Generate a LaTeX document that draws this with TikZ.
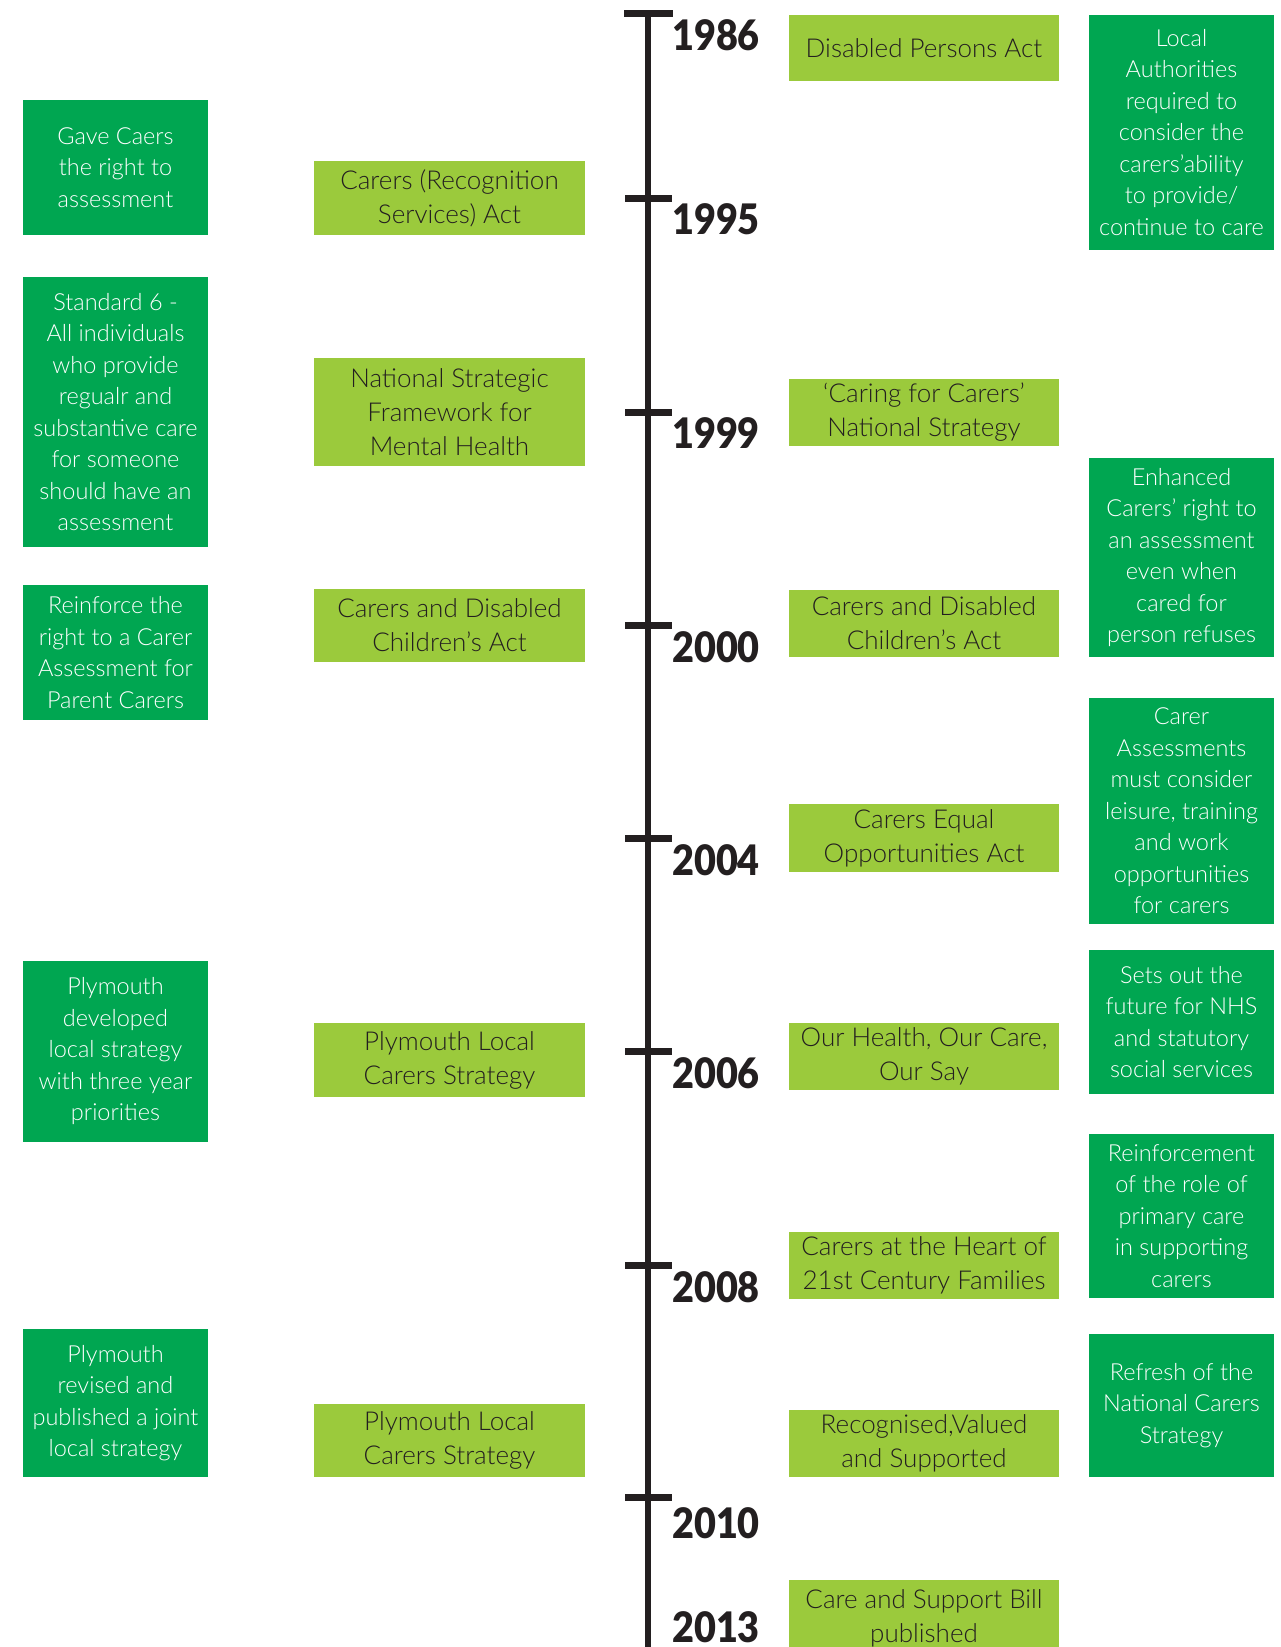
\documentclass[tikz,border=0pt]{standalone}
\usepackage{fontspec}
\usepackage{graphicx}
\setmainfont{Lato}[UprightFont=* Light, BoldFont=* Black]
\definecolor{notegreen}{HTML}{00A651}
\definecolor{actgreen}{HTML}{9BCA3C}
\definecolor{inkblack}{HTML}{231F20}

\tikzset{
    actbox/.style={fill=actgreen, text=inkblack, minimum width=271pt, inner sep=0pt,
        align=center, font=\fontsize{26}{34}\selectfont},
    notebox/.style={fill=notegreen, text=white, minimum width=185pt, inner sep=0pt,
        align=center, font=\fontsize{23.5}{31.5}\selectfont},
    yearlabel/.style={anchor=base west, inner sep=0pt, text=inkblack,
        font=\fontsize{42}{42}\selectfont\bfseries},
    tick/.style={line width=7pt, inkblack}
}

\begin{document}
\begin{tikzpicture}[x=1pt, y=-1pt]
    \useasboundingbox (0,0) rectangle (1281,1647);

    % timeline
    \coordinate (lineTop) at (648,10);
    \coordinate (lineEnd) at (648,1660);
    \draw[line width=6pt, inkblack] (lineTop) -- (lineEnd);

    \draw[tick] (624,13) -- (673,13);
    \draw[tick] (625,198) -- (672,198);
    \draw[tick] (625,412) -- (672,412);
    \draw[tick] (625,625) -- (672,625);
    \draw[tick] (625,838) -- (672,838);
    \draw[tick] (625,1051) -- (672,1051);
    \draw[tick] (625,1265) -- (672,1265);
    \draw[tick] (625,1497) -- (672,1497);

    \node[yearlabel] (y1986) at (672,50) {\scalebox{0.9}[1]{1986}};
    \node[yearlabel] (y1995) at (672,234) {\scalebox{0.9}[1]{1995}};
    \node[yearlabel] (y1999) at (672,448) {\scalebox{0.9}[1]{1999}};
    \node[yearlabel] (y2000) at (672,662) {\scalebox{0.9}[1]{2000}};
    \node[yearlabel] (y2004) at (672,875) {\scalebox{0.9}[1]{2004}};
    \node[yearlabel] (y2006) at (672,1088) {\scalebox{0.9}[1]{2006}};
    \node[yearlabel] (y2008) at (672,1302) {\scalebox{0.9}[1]{2008}};
    \node[yearlabel] (y2010) at (672,1538) {\scalebox{0.9}[1]{2010}};
    \node[yearlabel] (y2013) at (672,1642) {\scalebox{0.9}[1]{2013}};

    % local notes, left column
    \node[notebox, minimum height=135pt] (noteCaers) at (115.5,167.5)
        {Gave Caers\\the right to\\assessment};
    \node[notebox, minimum height=270pt] (noteStandard) at (115.5,412)
        {Standard 6 -\\All individuals\\who provide\\regualr and\\substantive care\\for someone\\should have an\\assessment};
    \node[notebox, minimum height=135pt] (noteParent) at (115.5,652.5)
        {Reinforce the\\right to a Carer\\Assessment for\\Parent Carers};
    \node[notebox, minimum height=181pt] (noteDeveloped) at (115.5,1051.5)
        {Plymouth\\developed\\local strategy\\with three year\\priorities};
    \node[notebox, minimum height=148pt] (noteRevised) at (115.5,1403)
        {Plymouth\\revised and\\published a joint\\local strategy};

    % acts, left of timeline
    \node[actbox, minimum height=74pt] (actRecognition) at (449.5,198)
        {Carers (Recognition\\Services) Act};
    \node[actbox, minimum height=108pt] (actMental) at (449.5,412)
        {National Strategic\\Framework for\\Mental Health};
    \node[actbox, minimum height=73pt] (actChildrenL) at (449.5,625.5)
        {Carers and Disabled\\Children’s Act};
    \node[actbox, minimum height=74pt] (actLocalA) at (449.5,1060)
        {Plymouth Local\\Carers Strategy};
    \node[actbox, minimum height=73pt] (actLocalB) at (449.5,1440.5)
        {Plymouth Local\\Carers Strategy};

    % acts, right of timeline
    \node[actbox, minimum width=270pt, minimum height=66pt] (actDisabled) at (924,48)
        {Disabled Persons Act};
    \node[actbox, minimum width=270pt, minimum height=67pt] (actCaring) at (924,412.5)
        {‘Caring for Carers’\\National Strategy};
    \node[actbox, minimum width=270pt, minimum height=67pt] (actChildrenR) at (924,623.5)
        {Carers and Disabled\\Children’s Act};
    \node[actbox, minimum width=270pt, minimum height=68pt] (actEqual) at (924,838)
        {Carers Equal\\Opportunities Act};
    \node[actbox, minimum width=270pt, minimum height=67pt] (actOurSay) at (924,1056.5)
        {Our Health, Our Care,\\Our Say};
    \node[actbox, minimum width=270pt, minimum height=67pt] (actHeart) at (924,1265.5)
        {Carers at the Heart of\\21st Century Families};
    \node[actbox, minimum width=270pt, minimum height=67pt] (actValued) at (924,1443.5)
        {Recognised,Valued\\and Supported};
    \node[actbox, minimum width=270pt, inner ysep=9pt, anchor=north] (actBill) at (924,1580)
        {Care and Support Bill\\published};

    % national notes, right column
    \node[notebox, minimum height=235pt] (noteAuthorities) at (1181.5,132.5)
        {Local\\Authorities\\required to\\consider the\\carers’ability\\to provide/\\continue to care};
    \node[notebox, minimum height=199pt] (noteEnhanced) at (1181.5,557.5)
        {Enhanced\\Carers’ right to\\an assessment\\even when\\cared for\\person refuses};
    \node[notebox, minimum height=226pt] (noteLeisure) at (1181.5,811)
        {Carer\\Assessments\\must consider\\leisure, training\\and work\\opportunities\\for carers};
    \node[notebox, minimum height=144pt] (noteNHS) at (1181.5,1022)
        {Sets out the\\future for NHS\\and statutory\\social services};
    \node[notebox, minimum height=164pt] (notePrimary) at (1181.5,1216)
        {Reinforcement\\of the role of\\primary care\\in supporting\\carers};
    \node[notebox, minimum height=143pt] (noteRefresh) at (1181.5,1405.5)
        {Refresh of the\\National Carers\\Strategy};
\end{tikzpicture}
\end{document}
